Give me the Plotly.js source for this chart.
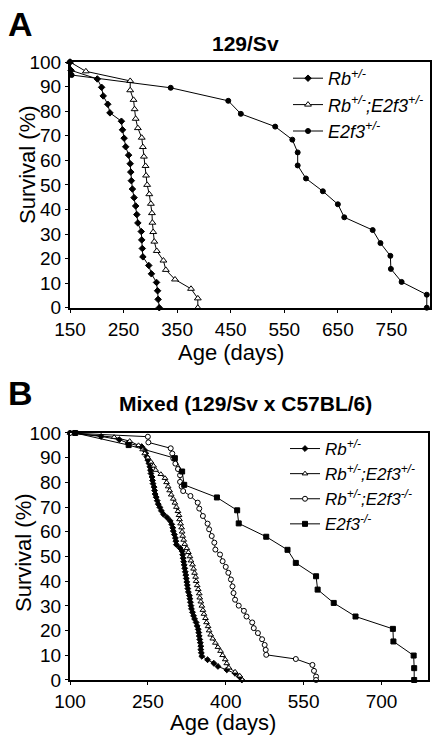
<!DOCTYPE html>
<html>
<head>
<meta charset="utf-8">
<script src="https://cdn.plot.ly/plotly-3.0.1.min.js"></script>
<style>html,body{margin:0;padding:0;background:#fff;}#chart{width:441px;height:741px;}</style>
</head>
<body>
<div id="chart"></div>
<script>
// ---------- Panel A (129/Sv) ----------
const aRbAge = [150,152,201,209,212,220.5,224.6,246,248,251,254,259.4,262.4,263.4,264.5,266.5,269.6,272.6,274.7,276.7,283,283.9,285,286,297,302,311.5,313.5,314.5,316.6];
const aRbSurv = [100,96.6,93.1,89.7,86.2,82.8,79.3,75.9,72.4,69.0,65.5,62.1,58.6,55.2,51.7,48.3,44.8,41.4,37.9,34.5,31.0,27.6,24.1,20.7,17.2,13.8,10.3,6.9,3.4,0];

const aRbE2f3hetAge = [150,179.6,262.4,262.4,268.6,270.6,272.6,276.7,283.9,286,288,291,292,294,298,301,303,303.8,305.3,307.4,312,324.4,328.9,346,375.9,388.6,388.6];
const aRbE2f3hetSurv = [100,96.2,92.3,88.5,84.6,80.8,76.9,73.1,69.2,65.4,61.5,57.7,53.8,50.0,46.2,42.3,38.5,34.6,30.8,26.9,23.1,19.2,15.4,11.5,7.7,3.8,0];

const aE2f3hetAge = [150,153,338,445.4,468.9,533,565,575,575,590.5,622,650,662,715,729.5,748,749,769,816,816];
const aE2f3hetSurv = [100,94.7,89.5,84.2,78.9,73.7,68.4,63.2,57.9,52.6,47.4,42.1,36.8,31.6,26.3,21.1,15.8,10.5,5.3,0];

// ---------- Panel B (Mixed) ----------
const bRbAge = [100,160,195,212,238,243,246,248,250,252,254,255,256,258,259,260,262,263,264,266,268,270,273,276,280,287,293,296,298,299,301,303,304,305,312,316,317,318,319,320,321,322,323,324,325,326,327,328,330,331,332,333,334,336,338,340,343,345,347,348,349,350,351,352,352,353,354,365,377,385,402,418,426,431];
const bRbSurv = [100,98.6,97.3,95.9,94.5,93.2,91.8,90.4,89.0,87.7,86.3,84.9,83.6,82.2,80.8,79.5,78.1,76.7,75.3,74.0,72.6,71.2,69.9,68.5,67.1,65.8,64.4,63.0,61.6,60.3,58.9,57.5,56.2,54.8,53.4,52.1,50.7,49.3,47.9,46.6,45.2,43.8,42.5,41.1,39.7,38.4,37.0,35.6,34.2,32.9,31.5,30.1,28.8,27.4,26.0,24.7,23.3,21.9,20.5,19.2,17.8,16.4,15.1,13.7,12.3,11.0,9.6,8.2,6.8,5.5,4.1,2.7,1.4,0];

const bRbE2f3hetAge = [100,185,215,232,240,244,250,256,261,265,275,283,286,289,292,295,299,302,305,308,310,311,313,315,316,317,319,321,325,328,331,333,336,338,340,342,343,345,347,349,350,352,354,356,358,361,363,366,368,371,375,380,385,390,394,399,402,406,418,427,432];
const bRbE2f3hetSurv = [100,98.3,96.7,95.0,93.3,91.7,90.0,88.3,86.7,85.0,83.3,81.7,80.0,78.3,76.7,75.0,73.3,71.7,70.0,68.3,66.7,65.0,63.3,61.7,60.0,58.3,56.7,55.0,53.3,51.7,50.0,48.3,46.7,45.0,43.3,41.7,40.0,38.3,36.7,35.0,33.3,31.7,30.0,28.3,26.7,25.0,23.3,21.7,20.0,18.3,16.7,15.0,13.3,11.7,10.0,8.3,6.7,5.0,3.3,1.7,0];

const bRbE2f3koAge = [100,250,251,294,297,299,303,308,312,312,315,318,332,346,349,356,365,368,373,378,380,389,394,400,405,410,413,415,418,425,435,440,451,454,462,470,475,477,478,535,567,570,574,574];
const bRbE2f3koSurv = [100,98.5,96.2,93.8,91.7,89.7,87.6,85.4,82.9,80.2,78.3,76.5,74.5,71.8,69.4,66.4,63.3,61,58.3,55.6,52.8,50.8,48.1,45.8,43.4,40.7,37.9,35.2,32.5,30.1,28,25.7,23.3,21,19,16.5,14.2,12.2,10.2,8.5,6.1,3.7,1.4,0];

const bE2f3koAge = [110,213,302,316,320,383,422,425,478,519,535,574,577,608,650,722,723,762,763,763];
const bE2f3koSurv = [100,95.1,89.8,84.4,79,73.9,68.7,63.4,58,52.7,47.4,42,36.6,31.2,25.7,20.7,15.6,9.9,4.8,0];

// labels
const lblRb = "<i>Rb<sup>+/-</sup></i>";
const lblRbHet = "<i>Rb<sup>+/-</sup>;E2f3<sup>+/-</sup></i>";
const lblE2f3Het = "<i>E2f3<sup>+/-</sup></i>";
const lblRbKo = "<i>Rb<sup>+/-</sup>;E2f3<sup>-/-</sup></i>";
const lblE2f3Ko = "<i>E2f3<sup>-/-</sup></i>";

const FONT = "Liberation Sans, Arial, Helvetica, sans-serif";
const lineStyle = {color:"#000", width:1};

function tr(x, y, name, sym, size, fill, xa, ya, leg){
  return {
    x:x, y:y, name:name, type:"scatter", mode:"lines+markers",
    line:lineStyle,
    marker:{symbol:sym, size:size, color:fill, line:{color:"#000", width:1}},
    xaxis:xa, yaxis:ya, legend:leg, cliponaxis:false
  };
}

const traces = [
  tr(aRbAge, aRbSurv, lblRb, "diamond", 5, "#000", "x", "y", "legend"),
  tr(aRbE2f3hetAge, aRbE2f3hetSurv, lblRbHet, "triangle-up", 6, "#fff", "x", "y", "legend"),
  tr(aE2f3hetAge, aE2f3hetSurv, lblE2f3Het, "circle", 5, "#000", "x", "y", "legend"),
  tr(bRbAge, bRbSurv, lblRb, "diamond", 4.5, "#000", "x2", "y2", "legend2"),
  tr(bRbE2f3hetAge, bRbE2f3hetSurv, lblRbHet, "triangle-up", 5, "#fff", "x2", "y2", "legend2"),
  tr(bRbE2f3koAge, bRbE2f3koSurv, lblRbKo, "circle", 5, "#fff", "x2", "y2", "legend2"),
  tr(bE2f3koAge, bE2f3koSurv, lblE2f3Ko, "square", 5, "#000", "x2", "y2", "legend2")
];

const axBase = {
  showline:true, mirror:true, linecolor:"#000", linewidth:2,
  showgrid:false, zeroline:false, ticks:"outside", ticklen:3, tickwidth:1, tickcolor:"#000",
  tickfont:{family:FONT, size:19, color:"#000"}, fixedrange:true
};

const px = v => (v-70)/360;
const py = v => (680-v)/618;

const ann = (text, x, y, size, bold, angle) => ({
  text: bold ? "<b>"+text+"</b>" : text,
  x:px(x), y:py(y), xref:"paper", yref:"paper", xanchor:"center", yanchor:"middle",
  showarrow:false, textangle:angle||0, font:{family:FONT, size:size, color:"#000"}
});

const layout = {
  width:441, height:741,
  margin:{l:70, r:11, t:62, b:61, pad:0},
  paper_bgcolor:"#fff", plot_bgcolor:"#fff",
  showlegend:true,
  xaxis: Object.assign({}, axBase, {domain:[0,1], range:[150,822], tick0:150, dtick:100, anchor:"y"}),
  yaxis: Object.assign({}, axBase, {domain:[0.6024,1], range:[0,100], tick0:0, dtick:10, anchor:"x"}),
  xaxis2: Object.assign({}, axBase, {domain:[0,0.995], range:[100,790], tick0:100, dtick:150, anchor:"y2"}),
  yaxis2: Object.assign({}, axBase, {domain:[0,0.3997], range:[0,100], tick0:0, dtick:10, anchor:"x2"}),
  legend:{x:px(288), y:py(60), xanchor:"left", yanchor:"top", bgcolor:"rgba(0,0,0,0)",
          font:{family:FONT, size:18, color:"#000"}, tracegroupgap:0, itemwidth:30},
  legend2:{x:px(285), y:py(431), xanchor:"left", yanchor:"top", bgcolor:"rgba(0,0,0,0)",
          font:{family:FONT, size:17, color:"#000"}, tracegroupgap:0, itemwidth:30},
  annotations:[
    ann("A", 20, 24, 34, true),
    ann("129/Sv", 245, 43, 21, true),
    ann("Age (days)", 231, 352, 22, false),
    ann("Survival (%)", 28, 165, 22, false, -90),
    ann("B", 20, 393, 34, true),
    ann("Mixed (129/Sv x C57BL/6)", 245, 403, 21, true),
    ann("Age (days)", 223, 722, 22, false),
    ann("Survival (%)", 23, 553, 22, false, -90)
  ]
};

Plotly.newPlot("chart", traces, layout, {staticPlot:true, displayModeBar:false});
</script>
</body>
</html>
